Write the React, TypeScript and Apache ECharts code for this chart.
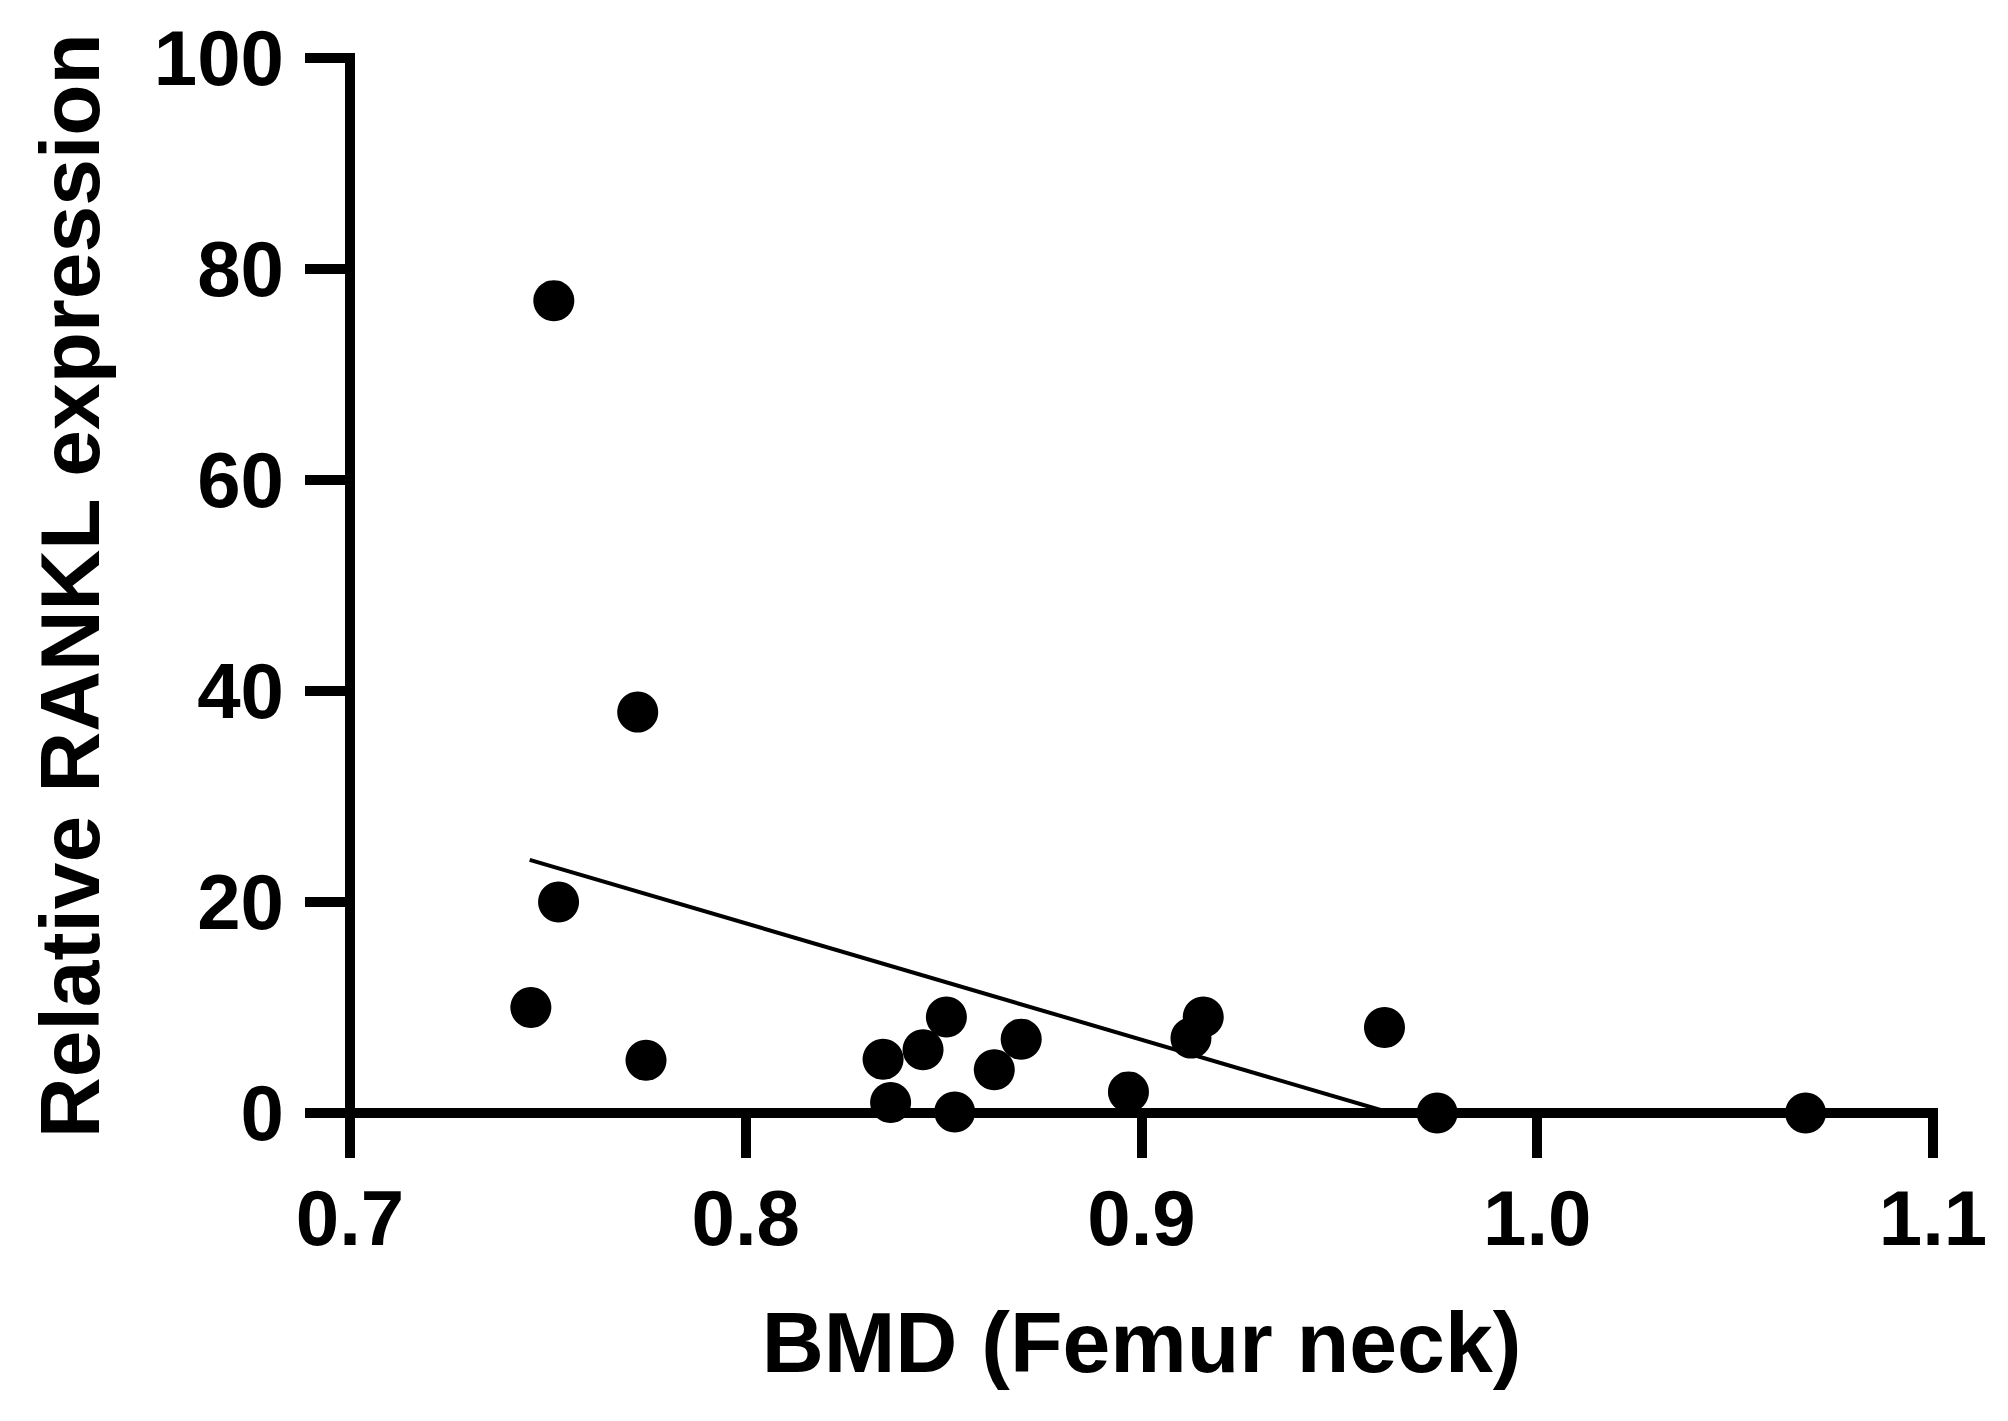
import React, { useEffect, useRef } from "react";
import * as echarts from "echarts";

const bmdValues = [0.7515, 0.7727, 0.7527, 0.7457, 0.7748, 0.8347, 0.8366, 0.8448, 0.8507, 0.8528, 0.8628, 0.8696, 0.8967, 0.9125, 0.9156, 0.9614, 0.9747, 1.0678];
const ranklValues = [77.0, 38.0, 20.0, 10.0, 5.0, 5.1, 1.0, 6.0, 9.1, 0.1, 4.1, 7.0, 2.0, 7.1, 9.1, 8.1, 0.0, 0.0];
const fitLineX = [0.7454, 0.963];
const fitLineY = [24.0, 0.0];
const xTitle = "BMD (Femur neck)";
const yTitle = "Relative RANKL expression";

const FONT = "'Liberation Sans', Arial, Helvetica, sans-serif";

export default function App() {
  const ref = useRef<HTMLDivElement>(null);
  useEffect(() => {
    if (!ref.current) return;
    const chart = echarts.init(ref.current, undefined, { renderer: "svg" });
    const points = bmdValues.map((x, i) => [x, ranklValues[i]]);
    const fit = fitLineX.map((x, i) => [x, fitLineY[i]]);
    const axisCommon = {
      axisLine: { show: true, lineStyle: { color: "#000", width: 10, cap: "square" } },
      axisTick: { show: true, length: 45, lineStyle: { color: "#000", width: 10 } },
      splitLine: { show: false },
    };
    chart.setOption({
      animation: false,
      backgroundColor: "#fff",
      grid: { left: 350, right: 75, top: 58, bottom: 308, containLabel: false },
      xAxis: {
        type: "value",
        min: 0.7,
        max: 1.1,
        interval: 0.1,
        ...axisCommon,
        axisLabel: {
          margin: 66,
          color: "#000",
          fontFamily: FONT,
          fontWeight: "bold",
          fontSize: 78,
          formatter: (v: number) => v.toFixed(1),
        },
        name: xTitle,
        nameLocation: "middle",
        nameGap: 186,
        nameTextStyle: { color: "#000", fontFamily: FONT, fontWeight: "bold", fontSize: 86 },
      },
      yAxis: {
        type: "value",
        min: 0,
        max: 100,
        interval: 20,
        ...axisCommon,
        axisLabel: {
          margin: 66,
          color: "#000",
          fontFamily: FONT,
          fontWeight: "bold",
          fontSize: 78,
        },
        name: yTitle,
        nameLocation: "middle",
        nameGap: 238,
        nameRotate: 90,
        nameTextStyle: { color: "#000", fontFamily: FONT, fontWeight: "bold", fontSize: 84 },
      },
      series: [
        {
          type: "line",
          data: fit,
          showSymbol: false,
          symbol: "none",
          lineStyle: { color: "#000", width: 4 },
          z: 2,
          clip: false,
        },
        {
          type: "scatter",
          data: points,
          symbol: "circle",
          symbolSize: 41,
          itemStyle: { color: "#000", opacity: 1 },
          z: 3,
          clip: false,
        },
      ],
    });
    return () => chart.dispose();
  }, []);
  return (
    <div
      ref={ref}
      style={{ position: "absolute", left: 0, top: 0, width: 2008, height: 1421, background: "#fff" }}
    />
  );
}
